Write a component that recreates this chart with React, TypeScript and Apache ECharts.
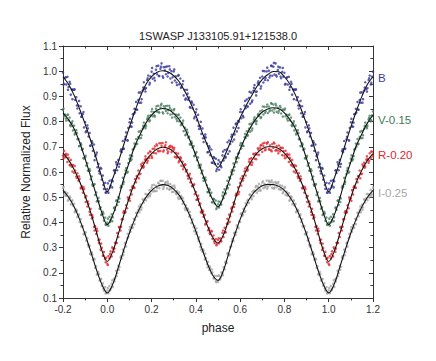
import React, { useEffect, useRef } from "react";
import * as echarts from "echarts";

// Model (fitted) light curves, phase 0 .. 1 in steps of 0.025
const MODEL_STEP = 0.025;
const B_MODEL = [0.522, 0.575, 0.640, 0.710, 0.778, 0.842, 0.900, 0.948, 0.978, 0.996, 1.002, 0.997, 0.982, 0.958, 0.920, 0.876, 0.825, 0.765, 0.710, 0.655, 0.618, 0.655, 0.706, 0.762, 0.815, 0.860, 0.900, 0.938, 0.968, 0.987, 0.999, 0.998, 0.978, 0.948, 0.905, 0.850, 0.790, 0.725, 0.655, 0.580, 0.522];
const V_MODEL = [0.391, 0.430, 0.495, 0.575, 0.640, 0.705, 0.752, 0.795, 0.826, 0.845, 0.852, 0.848, 0.833, 0.808, 0.772, 0.722, 0.665, 0.605, 0.545, 0.492, 0.462, 0.502, 0.565, 0.630, 0.690, 0.740, 0.782, 0.815, 0.838, 0.850, 0.855, 0.851, 0.835, 0.808, 0.772, 0.718, 0.652, 0.582, 0.510, 0.440, 0.391];
const R_MODEL = [0.245, 0.285, 0.355, 0.430, 0.500, 0.560, 0.608, 0.646, 0.673, 0.691, 0.698, 0.694, 0.680, 0.654, 0.617, 0.570, 0.515, 0.452, 0.392, 0.342, 0.318, 0.352, 0.415, 0.485, 0.550, 0.602, 0.643, 0.674, 0.692, 0.700, 0.700, 0.692, 0.675, 0.648, 0.610, 0.562, 0.505, 0.440, 0.365, 0.290, 0.245];
const I_MODEL = [0.120, 0.155, 0.222, 0.292, 0.358, 0.415, 0.462, 0.500, 0.527, 0.543, 0.550, 0.546, 0.532, 0.507, 0.470, 0.422, 0.365, 0.302, 0.242, 0.192, 0.170, 0.210, 0.282, 0.350, 0.412, 0.465, 0.505, 0.530, 0.545, 0.551, 0.550, 0.543, 0.527, 0.500, 0.462, 0.412, 0.352, 0.285, 0.215, 0.155, 0.120];

// Observations set 1, phase 0 .. 0.995 in steps of 0.005
const OBS1_START = 0;
const OBS1_STEP = 0.005;
const B_OBS1 = [
  0.532, 0.518, 0.565, 0.546, 0.568, 0.563, 0.606, 0.596, 0.639, 0.607,
  0.648, 0.632, 0.683, 0.679, 0.723, 0.693, 0.730, 0.757, 0.726, 0.775,
  0.797, 0.781, 0.780, 0.829, 0.831, 0.836, 0.878, 0.847, 0.886, 0.875,
  0.916, 0.889, 0.923, 0.956, 0.929, 0.933, 0.965, 0.983, 0.947, 0.979,
  0.998, 0.970, 0.990, 0.963, 1.006, 0.988, 1.022, 0.981, 1.010, 1.031,
  0.980, 1.016, 1.003, 0.988, 1.019, 0.993, 1.020, 0.971, 1.000, 0.976,
  0.999, 0.963, 0.980, 0.945, 0.982, 0.948, 0.971, 0.938, 0.948, 0.904,
  0.926, 0.892, 0.926, 0.887, 0.896, 0.855, 0.880, 0.853, 0.867, 0.819,
  0.837, 0.805, 0.827, 0.771, 0.781, 0.751, 0.773, 0.719, 0.741, 0.737,
  0.713, 0.679, 0.703, 0.667, 0.689, 0.637, 0.659, 0.633, 0.653, 0.612,
  0.632, 0.609, 0.639, 0.619, 0.666, 0.646, 0.687, 0.660, 0.690, 0.672,
  0.725, 0.711, 0.740, 0.721, 0.776, 0.749, 0.790, 0.761, 0.802, 0.800,
  0.838, 0.813, 0.838, 0.817, 0.864, 0.853, 0.888, 0.860, 0.894, 0.871,
  0.915, 0.884, 0.922, 0.945, 0.918, 0.919, 0.953, 0.947, 0.974, 0.940,
  0.979, 0.955, 1.000, 0.973, 0.999, 0.964, 1.002, 0.983, 1.022, 0.982,
  1.018, 0.987, 1.031, 0.979, 1.005, 0.990, 1.015, 0.972, 0.997, 0.978,
  0.994, 0.950, 0.974, 0.947, 0.978, 0.937, 0.958, 0.907, 0.927, 0.927,
  0.926, 0.886, 0.897, 0.852, 0.864, 0.833, 0.861, 0.821, 0.830, 0.777,
  0.798, 0.762, 0.785, 0.741, 0.755, 0.705, 0.723, 0.684, 0.709, 0.663,
  0.669, 0.619, 0.632, 0.594, 0.617, 0.570, 0.586, 0.533, 0.557, 0.519,
];
const V_OBS1 = [
  0.399, 0.387, 0.422, 0.410, 0.432, 0.420, 0.457, 0.450, 0.486, 0.469,
  0.500, 0.495, 0.538, 0.541, 0.577, 0.561, 0.592, 0.616, 0.597, 0.635,
  0.653, 0.645, 0.650, 0.689, 0.693, 0.701, 0.731, 0.712, 0.739, 0.734,
  0.763, 0.746, 0.772, 0.796, 0.780, 0.784, 0.809, 0.823, 0.801, 0.825,
  0.840, 0.821, 0.838, 0.820, 0.851, 0.839, 0.863, 0.836, 0.856, 0.871,
  0.837, 0.861, 0.852, 0.842, 0.863, 0.845, 0.863, 0.828, 0.847, 0.830,
  0.845, 0.818, 0.828, 0.802, 0.826, 0.801, 0.816, 0.791, 0.795, 0.762,
  0.776, 0.749, 0.768, 0.737, 0.740, 0.708, 0.721, 0.697, 0.703, 0.665,
  0.674, 0.647, 0.658, 0.617, 0.620, 0.595, 0.606, 0.565, 0.576, 0.568,
  0.547, 0.520, 0.534, 0.506, 0.518, 0.480, 0.494, 0.475, 0.487, 0.459,
  0.472, 0.459, 0.482, 0.471, 0.506, 0.496, 0.531, 0.516, 0.543, 0.536,
  0.579, 0.574, 0.600, 0.591, 0.634, 0.621, 0.654, 0.639, 0.672, 0.676,
  0.706, 0.693, 0.713, 0.703, 0.739, 0.735, 0.762, 0.746, 0.772, 0.760,
  0.792, 0.773, 0.800, 0.817, 0.800, 0.802, 0.826, 0.822, 0.841, 0.818,
  0.845, 0.828, 0.859, 0.841, 0.859, 0.834, 0.860, 0.845, 0.873, 0.844,
  0.868, 0.849, 0.871, 0.839, 0.855, 0.843, 0.862, 0.832, 0.847, 0.848,
  0.846, 0.821, 0.828, 0.804, 0.826, 0.805, 0.816, 0.782, 0.794, 0.765,
  0.784, 0.754, 0.766, 0.730, 0.731, 0.703, 0.714, 0.688, 0.692, 0.654,
  0.658, 0.625, 0.635, 0.605, 0.612, 0.571, 0.582, 0.545, 0.549, 0.509,
  0.519, 0.486, 0.497, 0.454, 0.460, 0.433, 0.442, 0.407, 0.419, 0.390,
];
const R_OBS1 = [
  0.236, 0.266, 0.257, 0.285, 0.265, 0.296, 0.284, 0.319, 0.319, 0.358,
  0.342, 0.379, 0.368, 0.412, 0.413, 0.445, 0.438, 0.468, 0.456, 0.491,
  0.496, 0.528, 0.511, 0.544, 0.538, 0.572, 0.559, 0.582, 0.606, 0.591,
  0.593, 0.623, 0.637, 0.622, 0.649, 0.651, 0.637, 0.674, 0.656, 0.681,
  0.663, 0.692, 0.675, 0.702, 0.674, 0.705, 0.684, 0.714, 0.683, 0.704,
  0.715, 0.686, 0.701, 0.718, 0.689, 0.681, 0.701, 0.704, 0.679, 0.695,
  0.688, 0.660, 0.676, 0.660, 0.673, 0.645, 0.659, 0.625, 0.641, 0.621,
  0.630, 0.602, 0.608, 0.574, 0.586, 0.559, 0.574, 0.544, 0.548, 0.512,
  0.521, 0.490, 0.506, 0.469, 0.475, 0.438, 0.448, 0.422, 0.430, 0.394,
  0.402, 0.369, 0.377, 0.353, 0.367, 0.335, 0.348, 0.318, 0.334, 0.313,
  0.330, 0.317, 0.336, 0.325, 0.359, 0.342, 0.379, 0.361, 0.395, 0.395,
  0.431, 0.424, 0.454, 0.443, 0.479, 0.473, 0.507, 0.508, 0.539, 0.521,
  0.557, 0.546, 0.584, 0.575, 0.603, 0.586, 0.620, 0.610, 0.641, 0.631,
  0.655, 0.638, 0.672, 0.653, 0.674, 0.669, 0.694, 0.668, 0.696, 0.707,
  0.680, 0.703, 0.716, 0.690, 0.712, 0.718, 0.690, 0.706, 0.686, 0.711,
  0.696, 0.713, 0.685, 0.703, 0.685, 0.705, 0.682, 0.695, 0.667, 0.683,
  0.665, 0.684, 0.659, 0.668, 0.640, 0.656, 0.628, 0.648, 0.621, 0.628,
  0.597, 0.606, 0.582, 0.595, 0.565, 0.573, 0.536, 0.543, 0.518, 0.532,
  0.499, 0.505, 0.463, 0.473, 0.442, 0.454, 0.416, 0.420, 0.382, 0.385,
  0.354, 0.366, 0.329, 0.332, 0.291, 0.299, 0.268, 0.283, 0.255, 0.260,
];
const I_OBS1 = [
  0.130, 0.119, 0.148, 0.136, 0.157, 0.144, 0.175, 0.178, 0.208, 0.199,
  0.228, 0.223, 0.261, 0.257, 0.292, 0.283, 0.317, 0.304, 0.337, 0.342,
  0.371, 0.363, 0.389, 0.380, 0.414, 0.411, 0.438, 0.424, 0.450, 0.440,
  0.471, 0.459, 0.492, 0.479, 0.496, 0.488, 0.511, 0.508, 0.529, 0.513,
  0.538, 0.523, 0.549, 0.524, 0.545, 0.537, 0.557, 0.536, 0.565, 0.547,
  0.565, 0.541, 0.552, 0.559, 0.535, 0.553, 0.530, 0.552, 0.534, 0.544,
  0.522, 0.538, 0.516, 0.525, 0.499, 0.519, 0.495, 0.501, 0.474, 0.483,
  0.457, 0.468, 0.449, 0.453, 0.423, 0.428, 0.399, 0.412, 0.381, 0.386,
  0.354, 0.361, 0.335, 0.341, 0.303, 0.315, 0.284, 0.288, 0.253, 0.258,
  0.234, 0.244, 0.211, 0.219, 0.198, 0.202, 0.179, 0.188, 0.167, 0.187,
  0.164, 0.189, 0.173, 0.202, 0.198, 0.222, 0.214, 0.245, 0.239, 0.277,
  0.269, 0.303, 0.305, 0.335, 0.326, 0.359, 0.350, 0.388, 0.381, 0.404,
  0.402, 0.436, 0.426, 0.454, 0.441, 0.476, 0.468, 0.490, 0.477, 0.511,
  0.498, 0.522, 0.504, 0.526, 0.540, 0.518, 0.542, 0.553, 0.531, 0.546,
  0.558, 0.536, 0.553, 0.544, 0.566, 0.542, 0.565, 0.547, 0.561, 0.537,
  0.558, 0.538, 0.560, 0.540, 0.554, 0.532, 0.547, 0.532, 0.545, 0.522,
  0.537, 0.510, 0.522, 0.507, 0.516, 0.491, 0.503, 0.472, 0.485, 0.467,
  0.474, 0.445, 0.451, 0.421, 0.427, 0.402, 0.413, 0.382, 0.385, 0.352,
  0.359, 0.328, 0.337, 0.304, 0.308, 0.273, 0.281, 0.252, 0.256, 0.220,
  0.226, 0.195, 0.203, 0.169, 0.173, 0.149, 0.158, 0.129, 0.143, 0.120,
];

// Observations set 2, phase 0.0025 .. 0.9925 in steps of 0.01
const OBS2_START = 0.0025;
const OBS2_STEP = 0.01;
const B_OBS2 = [
  0.555, 0.539, 0.539, 0.607, 0.630, 0.621, 0.690, 0.691, 0.740, 0.725,
  0.811, 0.796, 0.851, 0.848, 0.915, 0.875, 0.935, 0.919, 0.972, 0.954,
  1.013, 0.974, 1.020, 0.981, 1.018, 0.974, 1.017, 0.979, 1.007, 0.955,
  1.007, 0.955, 0.985, 0.934, 0.961, 0.887, 0.911, 0.858, 0.875, 0.813,
  0.849, 0.783, 0.799, 0.734, 0.749, 0.678, 0.697, 0.637, 0.657, 0.604,
  0.647, 0.624, 0.681, 0.656, 0.718, 0.682, 0.748, 0.729, 0.793, 0.775,
  0.849, 0.823, 0.882, 0.860, 0.918, 0.877, 0.934, 0.904, 0.960, 0.931,
  1.001, 0.965, 1.014, 0.975, 1.021, 1.033, 0.984, 1.018, 0.979, 1.013,
  0.947, 0.976, 0.926, 0.950, 0.889, 0.928, 0.864, 0.882, 0.819, 0.838,
  0.758, 0.773, 0.704, 0.716, 0.647, 0.677, 0.604, 0.613, 0.548, 0.518,
];
const V_OBS2 = [
  0.415, 0.402, 0.405, 0.460, 0.488, 0.481, 0.545, 0.552, 0.606, 0.601,
  0.666, 0.663, 0.713, 0.710, 0.760, 0.735, 0.783, 0.774, 0.815, 0.805,
  0.850, 0.825, 0.861, 0.837, 0.866, 0.832, 0.861, 0.833, 0.854, 0.816,
  0.850, 0.811, 0.828, 0.786, 0.804, 0.746, 0.757, 0.711, 0.714, 0.663,
  0.679, 0.626, 0.629, 0.576, 0.578, 0.521, 0.529, 0.480, 0.492, 0.453,
  0.483, 0.472, 0.519, 0.512, 0.565, 0.550, 0.608, 0.606, 0.659, 0.656,
  0.715, 0.704, 0.751, 0.744, 0.790, 0.765, 0.809, 0.791, 0.831, 0.814,
  0.860, 0.835, 0.868, 0.841, 0.871, 0.836, 0.864, 0.835, 0.856, 0.820,
  0.852, 0.812, 0.828, 0.786, 0.801, 0.749, 0.755, 0.703, 0.709, 0.655,
  0.664, 0.606, 0.605, 0.550, 0.552, 0.483, 0.484, 0.429, 0.435, 0.392,
];
const R_OBS2 = [
  0.231, 0.274, 0.301, 0.296, 0.318, 0.382, 0.383, 0.439, 0.442, 0.499,
  0.486, 0.539, 0.537, 0.584, 0.575, 0.630, 0.617, 0.662, 0.645, 0.681,
  0.656, 0.692, 0.710, 0.682, 0.714, 0.681, 0.707, 0.674, 0.699, 0.701,
  0.696, 0.657, 0.639, 0.654, 0.611, 0.629, 0.585, 0.593, 0.544, 0.551,
  0.490, 0.494, 0.442, 0.443, 0.392, 0.405, 0.357, 0.364, 0.325, 0.309,
  0.337, 0.326, 0.368, 0.360, 0.414, 0.402, 0.460, 0.461, 0.514, 0.512,
  0.574, 0.566, 0.614, 0.605, 0.651, 0.628, 0.670, 0.651, 0.689, 0.705,
  0.713, 0.686, 0.716, 0.689, 0.682, 0.717, 0.687, 0.674, 0.697, 0.696,
  0.655, 0.672, 0.669, 0.626, 0.602, 0.624, 0.576, 0.583, 0.536, 0.540,
  0.481, 0.483, 0.430, 0.429, 0.368, 0.375, 0.318, 0.316, 0.268, 0.242,
];
const I_OBS2 = [
  0.140, 0.130, 0.170, 0.166, 0.187, 0.212, 0.266, 0.270, 0.320, 0.355,
  0.381, 0.378, 0.393, 0.438, 0.463, 0.450, 0.489, 0.513, 0.499, 0.504,
  0.547, 0.526, 0.525, 0.554, 0.565, 0.533, 0.557, 0.562, 0.534, 0.521,
  0.546, 0.512, 0.493, 0.505, 0.496, 0.449, 0.455, 0.442, 0.397, 0.365,
  0.376, 0.326, 0.292, 0.293, 0.276, 0.222, 0.226, 0.213, 0.177, 0.163,
  0.189, 0.182, 0.190, 0.241, 0.277, 0.272, 0.325, 0.358, 0.361, 0.377,
  0.433, 0.430, 0.445, 0.485, 0.510, 0.492, 0.526, 0.545, 0.526, 0.526,
  0.563, 0.539, 0.534, 0.560, 0.567, 0.534, 0.556, 0.560, 0.530, 0.516,
  0.540, 0.506, 0.486, 0.498, 0.488, 0.440, 0.446, 0.432, 0.385, 0.354,
  0.361, 0.311, 0.276, 0.273, 0.253, 0.193, 0.194, 0.176, 0.137, 0.118,
];

const BANDS = ["B", "V-0.15", "R-0.20", "I-0.25"];
const POINT_COLORS = ["#35359d", "#437f5c", "#e8232b", "#a3a3a3"];
const LABEL_COLORS = ["#3d3d9c", "#44795a", "#e3262c", "#a6a6a6"];

const X_MIN = -0.2;
const X_MAX = 1.2;

// Fold a phase-ordered set (phase in [0,1)) over the plotted range -0.2 .. 1.2
function fold(values: number[], start: number, step: number) {
  const out: [number, number][] = [];
  for (let i = 0; i < values.length; i++) {
    const p = Math.round((start + i * step) * 10000) / 10000;
    if (p >= 1) continue;
    for (const shift of [-1, 0, 1]) {
      const q = Math.round((p + shift) * 10000) / 10000;
      if (q >= X_MIN - 1e-9 && q <= X_MAX + 1e-9) out.push([q, values[i]]);
    }
  }
  out.sort((a, b) => a[0] - b[0]);
  return out;
}

export default function App() {
  const ref = useRef<HTMLDivElement>(null);
  useEffect(() => {
    document.body.style.margin = "0";
    if (!ref.current) return;
    const chart = echarts.init(ref.current, undefined, { renderer: "svg" });
    const obs1 = [B_OBS1, V_OBS1, R_OBS1, I_OBS1];
    const obs2 = [B_OBS2, V_OBS2, R_OBS2, I_OBS2];
    const models = [B_MODEL, V_MODEL, R_MODEL, I_MODEL];
    const font = "Liberation Sans";
    const axisColor = "#333";
    const fmt = (v: number) => v.toFixed(1);
    const baseX = {
      type: "value" as const,
      min: X_MIN,
      max: X_MAX,
      interval: 0.2,
      splitLine: { show: false },
      axisLine: { show: true, onZero: false, lineStyle: { color: axisColor, width: 1 } },
    };
    const baseY = {
      type: "value" as const,
      min: 0.1,
      max: 1.1,
      interval: 0.1,
      splitLine: { show: false },
      axisLine: { show: true, onZero: false, lineStyle: { color: axisColor, width: 1 } },
    };
    const series: any[] = [];
    BANDS.forEach((b, k) => {
      const data = fold(obs1[k], OBS1_START, OBS1_STEP)
        .concat(fold(obs2[k], OBS2_START, OBS2_STEP))
        .sort((a, c) => a[0] - c[0]);
      series.push({
        type: "scatter",
        name: b,
        data,
        symbol: "circle",
        symbolSize: 2.5,
        itemStyle: { color: POINT_COLORS[k] },
        silent: true,
        z: 2,
      });
    });
    models.forEach((vals, k) => {
      series.push({
        type: "line",
        name: BANDS[k] + " fit",
        data: fold(vals, 0, MODEL_STEP),
        showSymbol: false,
        smooth: 0.35,
        lineStyle: { color: "#111", width: 1.1 },
        silent: true,
        z: 3,
      });
    });
    const labelY = [78, 120, 155, 193];
    chart.setOption({
      animation: false,
      textStyle: { fontFamily: font },
      title: {
        text: "1SWASP J133105.91+121538.0",
        left: "center",
        top: 30,
        padding: 0,
        textStyle: { fontSize: 11, fontWeight: "normal", color: "#222", fontFamily: font },
      },
      grid: { left: 63, right: 63, top: 46, bottom: 63 },
      xAxis: [
        {
          ...baseX,
          position: "bottom",
          axisTick: { show: true, inside: false, length: 4, lineStyle: { color: axisColor } },
          minorTick: { show: true, splitNumber: 2, length: 2.5, lineStyle: { color: axisColor } },
          axisLabel: { formatter: fmt, fontSize: 10, color: "#333", margin: 6, fontFamily: font },
          name: "phase",
          nameLocation: "middle",
          nameGap: 24,
          nameTextStyle: { fontSize: 12, color: "#222", fontFamily: font },
        },
        {
          ...baseX,
          position: "top",
          axisTick: { show: true, inside: true, length: 4, lineStyle: { color: axisColor } },
          minorTick: { show: true, splitNumber: 2, length: 2.5, lineStyle: { color: axisColor } },
          axisLabel: { show: false },
        },
      ],
      yAxis: [
        {
          ...baseY,
          position: "left",
          axisTick: { show: true, inside: false, length: 4, lineStyle: { color: axisColor } },
          minorTick: { show: true, splitNumber: 2, length: 2.5, lineStyle: { color: axisColor } },
          axisLabel: { formatter: fmt, fontSize: 10, color: "#333", margin: 6, fontFamily: font },
          name: "Relative Normalized Flux",
          nameLocation: "middle",
          nameRotate: 90,
          nameGap: 27,
          nameTextStyle: { fontSize: 12, color: "#222", fontFamily: font },
        },
        {
          ...baseY,
          position: "right",
          axisTick: { show: true, inside: true, length: 4, lineStyle: { color: axisColor } },
          minorTick: { show: true, splitNumber: 2, length: 2.5, lineStyle: { color: axisColor } },
          axisLabel: { show: false },
        },
      ],
      graphic: BANDS.map((b, k) => ({
        type: "text",
        x: 378,
        y: labelY[k],
        silent: true,
        style: {
          text: b,
          fill: LABEL_COLORS[k],
          fontSize: 11.5,
          fontFamily: font,
          verticalAlign: "middle",
          align: "left",
        },
      })),
      series,
    });
    return () => chart.dispose();
  }, []);
  return <div ref={ref} style={{ width: 436, height: 361 }} />;
}
